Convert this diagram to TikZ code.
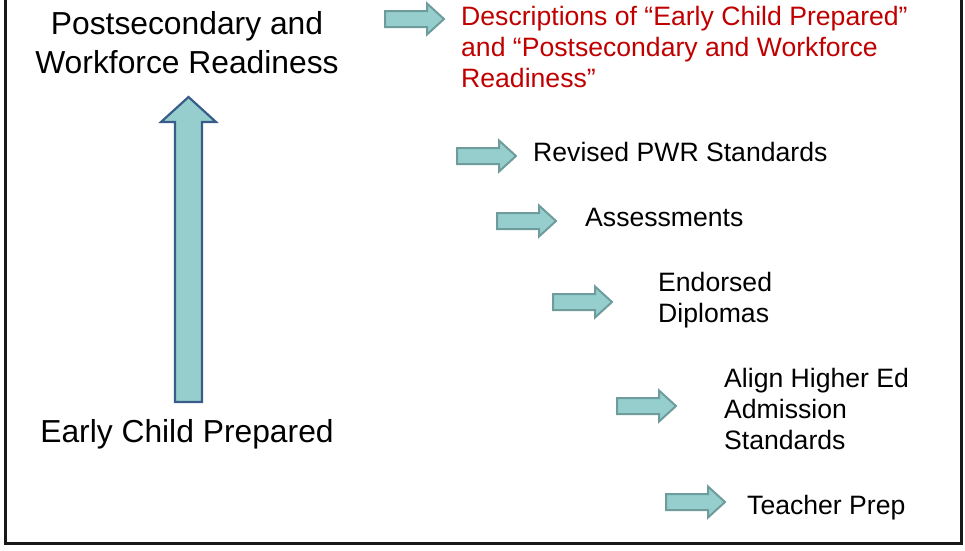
\documentclass[tikz,border=0pt]{standalone}
\usepackage{fontspec}
\setmainfont{Liberation Sans}
\definecolor{arrfill}{HTML}{96CECE}
\definecolor{arrline}{HTML}{6E9C9C}
\definecolor{bigline}{HTML}{385D8A}
\definecolor{redtext}{HTML}{C00000}
\tikzset{
  bigtext/.style={font=\fontsize{31.8}{39}\selectfont, inner sep=0pt, align=center},
  smalltext/.style={font=\fontsize{26.6}{31}\selectfont, inner sep=0pt, align=left, anchor=base west},
  smallarrow/.style={fill=arrfill, draw=arrline, line width=2pt, line join=miter},
  bigarrow/.style={fill=arrfill, draw=bigline, line width=2.2pt, line join=miter},
  rarr/.pic={\path[smallarrow] (0,-8) -- (42,-8) -- (42,-15.5) -- (59,0) -- (42,15.5) -- (42,8) -- (0,8) -- cycle;}
}
\begin{document}
\begin{tikzpicture}[x=1pt,y=-1pt]
\useasboundingbox (0,0) rectangle (965,550);
% frame
\draw[line width=3pt, black!90] (5,-10) -- (5,543) -- (961,543) -- (961,-10);
% big arrow
\path[bigarrow] (175,402) -- (175,122) -- (161,122) -- (188.5,97) -- (216,122) -- (202,122) -- (202,402) -- cycle;
% texts (base anchor = baseline of last line)
\node[bigtext, anchor=base] (top) at (187,73) {Postsecondary and\\Workforce Readiness};
\node[bigtext, anchor=base] (bottom) at (187,442) {Early Child Prepared};
\node[smalltext, text=redtext] (desc) at (461,87) {Descriptions of “Early Child Prepared”\\and “Postsecondary and Workforce\\Readiness”};
\node[smalltext] (pwr) at (533,161) {Revised PWR Standards};
\node[smalltext] (assess) at (585,226) {Assessments};
\node[smalltext] (dipl) at (658,322) {Endorsed\\Diplomas};
\node[smalltext] (align) at (724,449) {Align Higher Ed\\Admission\\Standards};
\node[smalltext] (teach) at (747,514) {Teacher Prep};
% small arrows
\pic at (385,19) {rarr};
\pic at (457,156) {rarr};
\pic at (497,221) {rarr};
\pic at (553,302) {rarr};
\pic at (617,406) {rarr};
\pic at (666,502) {rarr};
\end{tikzpicture}
\end{document}
